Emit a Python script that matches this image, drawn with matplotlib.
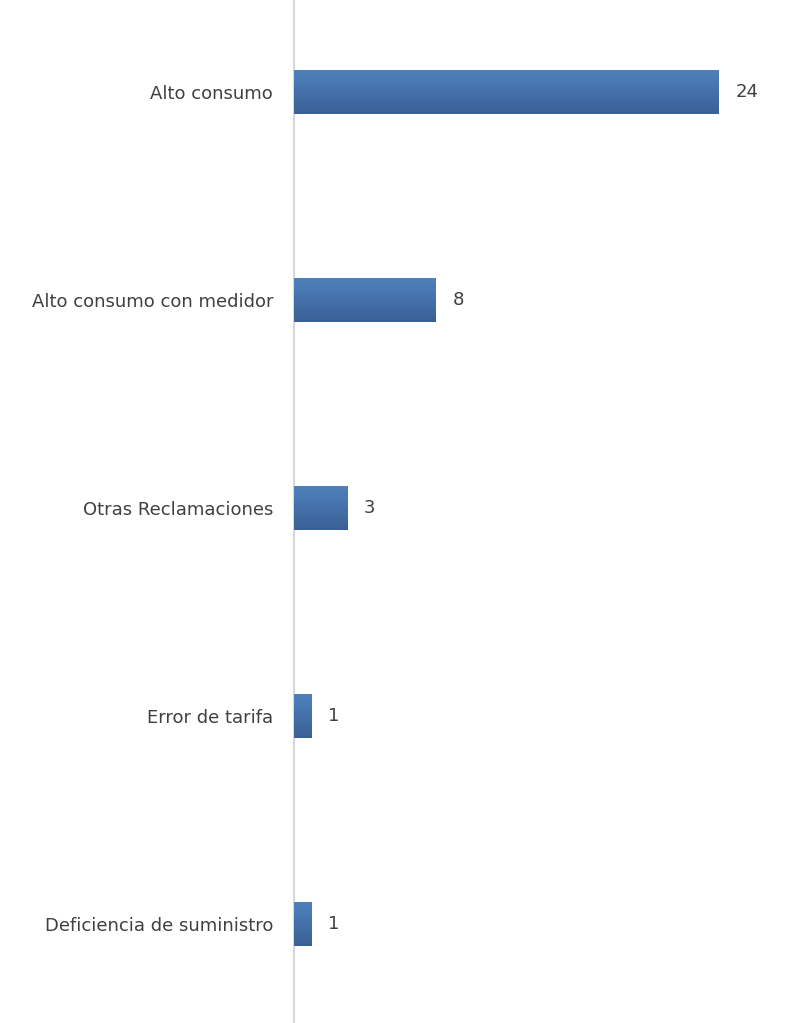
import matplotlib
matplotlib.use("Agg")
import matplotlib.pyplot as plt
import numpy as np
from matplotlib.colors import LinearSegmentedColormap

categories = ["Alto consumo", "Alto consumo con medidor", "Otras Reclamaciones",
              "Error de tarifa", "Deficiencia de suministro"]
values = [24, 8, 3, 1, 1]

plt.rcParams['font.family'] = ['DejaVu Sans']
text_color = "#404040"

fig = plt.figure(figsize=(7.87, 10.23), dpi=100)
ax = fig.add_axes([294/787, 0, 1 - 294/787, 1])

y = np.arange(len(categories))
bars = ax.barh(y, values, height=0.21, color="#4a77b0", edgecolor="none", zorder=2)

cmap = LinearSegmentedColormap.from_list("g", ["#4f81bd", "#3a6096"])
grad = np.linspace(0, 1, 256).reshape(-1, 1)
for b in bars:
    x0, y0 = b.get_x(), b.get_y()
    w, h = b.get_width(), b.get_height()
    im = ax.imshow(grad, cmap=cmap, aspect="auto", extent=[x0, x0 + w, y0 + h, y0],
                   origin="upper", zorder=3)
    im.set_clip_path(b)

for yi, v in zip(y, values):
    ax.annotate(str(v), xy=(v, yi), xytext=(12, 0), textcoords="offset points",
                va="center", ha="left", fontsize=13, color=text_color)

ax.set_xlim(0, 27.85)
ax.set_ylim(4.476, -0.442)
ax.set_yticks(y)
ax.set_yticklabels(categories, fontsize=13, color=text_color, va="center_baseline")
ax.tick_params(axis="y", length=0, pad=15)
ax.set_xticks([])
for s in ["top", "right", "bottom"]:
    ax.spines[s].set_visible(False)
ax.spines["left"].set_color("#d9d9d9")
ax.spines["left"].set_linewidth(1.5)

fig.savefig("out.png", dpi=100)
